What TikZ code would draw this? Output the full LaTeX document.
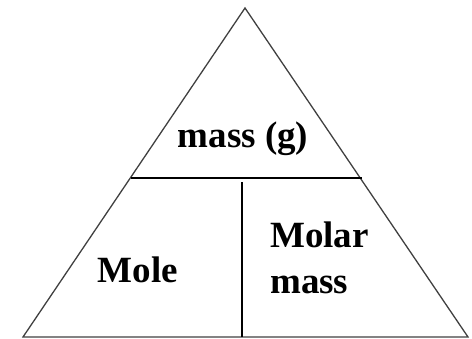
\documentclass[tikz,border=0pt]{standalone}
\usepackage{fontspec}
\setmainfont{Liberation Serif}
\usetikzlibrary{positioning, calc}

\begin{document}
\begin{tikzpicture}[
  x=1pt, y=-1pt,
  edge/.style={draw=black!75, line width=1.3pt},
  divider/.style={draw=black, line width=1.5pt},
  label/.style={font=\fontsize{37}{46}\selectfont\bfseries, inner sep=0pt, align=left},
]
\useasboundingbox (0,0) rectangle (472,338);

% outer triangle
\coordinate (apex)  at (245,8);
\coordinate (baseL) at (23,337);
\coordinate (baseR) at (468,337);
\draw[edge, line join=miter] (baseL) -- (apex) -- (baseR) -- cycle;

% dividing lines
\coordinate (midL) at (131,178);
\coordinate (midR) at (362,178);
\coordinate (vtop) at (242,182);
\coordinate (vbot) at (242,337);
\draw[divider] (midL) -- (midR);
\draw[divider] (vtop) -- (vbot);

% texts (placed by baseline)
\node[label, anchor=base] (massg) at (243,147) {mass (g)};
\node[label, anchor=base] (mole)  at (138,282) {Mole};
\node[label, anchor=base west] (molar) at (270,247) {Molar};
\node[label, anchor=base west] (molmass) at (270,293) {mass};

\end{tikzpicture}
\end{document}
